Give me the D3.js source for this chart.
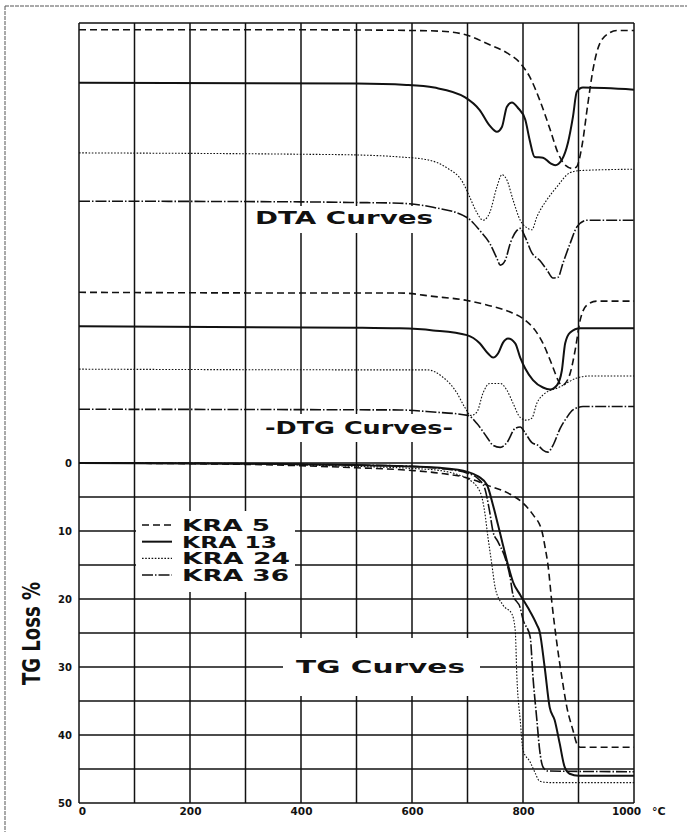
<!DOCTYPE html>
<html>
<head>
<meta charset="utf-8">
<script src="https://cdn.jsdelivr.net/npm/d3@7"></script>
<style>
  html, body { margin: 0; padding: 0; background: #fff; }
  svg text { font-family: "DejaVu Sans", Verdana, sans-serif; font-weight: bold; fill: #111; }
</style>
</head>
<body>
<div id="chart"></div>
<script>
// Samples (legend order)
const samples = ["KRA 5", "KRA 13", "KRA 24", "KRA 36"];

// Axis ticks
const tempTicks = [0, 200, 400, 600, 800, 1000];
const tgTicks = [0, 10, 20, 30, 40, 50];

// TG curves: [temperature °C, weight loss %]
const tgKRA5 = [[0,0],[200,0.1],[300,0.2],[400,0.4],[500,0.7],[600,1.1],[650,1.5],[700,2.2],[740,3.4],[777,4.6],[800,5.9],[818,7.6],[834,10.0],[840,12.5],[845,15],[852,20.5],[861,26.5],[870,31.5],[879,35.9],[890,39.3],[897,41.3],[903,41.8],[1000,41.8]];
const tgKRA13 = [[0,0],[300,0.1],[400,0.2],[500,0.3],[600,0.5],[650,0.7],[700,1.3],[720,2.0],[735,3.2],[746,6.2],[755,9.1],[764,12.1],[773,15],[782,17.5],[795,19.4],[809,21.3],[825,23.8],[830,24.8],[839,30],[848,35.9],[857,37.8],[866,41.2],[875,44.7],[884,45.7],[900,46.0],[1000,46.0]];
const tgKRA24 = [[0,0],[300,0.1],[400,0.3],[500,0.5],[600,0.8],[650,1.1],[686,1.8],[700,2.3],[723,4.3],[731,7.2],[737,11],[744,15],[750,18.4],[764,20.9],[780,22.2],[786,24.6],[789,31.5],[795,37.8],[800,42.2],[813,44],[822,45.6],[830,46.8],[850,47.0],[1000,47.0]];
const tgKRA36 = [[0,0],[300,0.1],[400,0.2],[500,0.3],[600,0.5],[650,0.8],[700,1.5],[720,2.4],[731,3.7],[740,7.2],[746,10.1],[755,11.6],[768,14],[777,16.9],[782,19.4],[795,21.3],[800,23.0],[813,25.6],[818,31.5],[825,37.8],[830,42.2],[836,44.7],[845,45.3],[1000,45.4]];

// DTA curves: [temperature °C, deflection from baseline, chart divisions]
const dtaKRA5 = [[0,0],[400,0],[600,-0.1],[650,-0.2],[695,-0.7],[740,-2.2],[771,-3.4],[795,-4.9],[812,-6.9],[830,-10.3],[849,-14.7],[863,-18.1],[876,-19.9],[890,-20.4],[897,-20.1],[906,-17.2],[917,-10.8],[926,-5.9],[939,-1.9],[957,-0.4],[969,-0.1],[1000,-0.1]];
const dtaKRA13 = [[0,0],[500,-0.1],[590,-0.3],[640,-0.7],[695,-2.1],[722,-4.0],[740,-6.3],[753,-7.2],[762,-6.5],[771,-3.5],[780,-2.9],[791,-3.7],[804,-5.4],[812,-8.4],[821,-10.9],[836,-11.0],[849,-11.8],[858,-12.1],[870,-11.3],[881,-8.8],[890,-5.0],[897,-1.3],[908,-0.7],[1000,-1.0]];
const dtaKRA24 = [[0,0],[400,-0.2],[500,-0.3],[578,-0.6],[627,-1.0],[663,-2.2],[692,-4.4],[704,-6.5],[717,-8.8],[728,-9.9],[740,-8.8],[753,-5.0],[762,-3.2],[771,-4.0],[782,-6.9],[795,-9.9],[807,-11.0],[816,-11.3],[825,-9.4],[843,-6.9],[861,-5.0],[885,-2.9],[903,-2.6],[1000,-2.4]];
const dtaKRA36 = [[0,0],[400,-0.1],[500,-0.2],[578,-0.3],[638,-0.9],[699,-2.4],[722,-4.3],[740,-6.2],[753,-8.4],[759,-9.4],[768,-8.7],[777,-6.2],[789,-4.3],[795,-4.0],[804,-5.3],[816,-7.6],[830,-8.7],[843,-10.1],[854,-11.3],[863,-11.2],[872,-9.1],[885,-6.2],[897,-3.8],[915,-2.8],[1000,-2.8]];

// DTG curves: [temperature °C, deflection from baseline, chart divisions]
const dtgKRA5 = [[0,0],[400,-0.1],[578,-0.1],[638,-0.6],[699,-1.2],[746,-2.1],[777,-2.9],[804,-4.1],[822,-5.6],[836,-7.5],[849,-10.0],[858,-11.9],[863,-12.9],[870,-13.7],[876,-13.4],[885,-11.9],[894,-8.5],[903,-4.1],[915,-1.9],[933,-1.3],[1000,-1.3]];
const dtgKRA13 = [[0,0],[500,-0.2],[578,-0.3],[638,-0.6],[699,-1.3],[722,-2.5],[737,-4.0],[746,-4.6],[755,-4.0],[764,-2.4],[773,-1.8],[786,-2.5],[795,-4.6],[804,-6.2],[818,-7.9],[836,-9.0],[849,-9.3],[861,-8.7],[870,-6.5],[876,-2.5],[885,-0.9],[903,-0.3],[1000,-0.3]];
const dtgKRA24 = [[0,0],[500,-0.1],[627,-0.1],[656,-1.2],[681,-3.5],[695,-5.6],[706,-6.8],[717,-6.3],[728,-3.5],[740,-2.1],[759,-2.1],[771,-3.1],[782,-5.0],[795,-7.1],[807,-7.5],[816,-7.2],[825,-5.0],[836,-3.8],[867,-2.6],[897,-1.3],[921,-1.0],[1000,-1.0]];
const dtgKRA36 = [[0,0],[578,-0.1],[638,-0.4],[701,-0.9],[717,-2.1],[735,-4.1],[746,-5.3],[759,-5.6],[771,-4.9],[786,-2.8],[795,-2.6],[804,-3.5],[816,-4.9],[827,-5.3],[836,-6.0],[845,-6.3],[854,-5.3],[867,-2.8],[879,-1.2],[890,-0.1],[908,0.4],[1000,0.4]];

// Baseline offsets of the stacked traces (divisions above TG zero)
const dtaBaseline = [63.7, 55.9, 45.6, 38.5];
const dtgBaseline = [25.1, 20.1, 13.8, 7.9];
const chartTop = 64.7;

document.addEventListener("DOMContentLoaded", () => {
    const width = 687, height = 832;

    const svg = d3.select("#chart")
        .append("svg")
        .attr("width", width)
        .attr("height", height)
        .attr("viewBox", `0 0 ${width} ${height}`);

    // Scales
    const x = d3.scaleLinear().domain([0, 1000]).range([79, 634]);
    const yTG = d3.scaleLinear().domain([0, 50]).range([463, 803]);
    const ySig = d3.scaleLinear().domain([0, chartTop]).range([463, 23]);

    // line styles per sample
    const styles = [
        { width: 1.6, dash: "7,4" },          // KRA 5 dashed
        { width: 2.0, dash: null },           // KRA 13 solid
        { width: 1.1, dash: "1.6,1.6" },      // KRA 24 dotted
        { width: 1.6, dash: "11,2,1.5,2" }    // KRA 36 dash-dot
    ];

    // Page frame (scan edge)
    svg.append("line").attr("x1", 5).attr("y1", 6).attr("x2", width).attr("y2", 6)
        .attr("stroke", "#555").attr("stroke-width", 1).attr("stroke-dasharray", "4,1");
    svg.append("line").attr("x1", 5).attr("y1", 6).attr("x2", 5).attr("y2", height)
        .attr("stroke", "#555").attr("stroke-width", 1).attr("stroke-dasharray", "4,1");

    // Grid
    const grid = svg.append("g").attr("stroke", "#111").attr("fill", "none");
    grid.selectAll("line.v")
        .data(d3.range(0, 1001, 100))
        .enter().append("line")
        .attr("x1", d => x(d)).attr("x2", d => x(d))
        .attr("y1", ySig(chartTop)).attr("y2", yTG(50))
        .attr("stroke-width", 1.5);
    grid.selectAll("line.h")
        .data(d3.range(0, 51, 5))
        .enter().append("line")
        .attr("x1", x(0)).attr("x2", x(1000))
        .attr("y1", d => yTG(d)).attr("y2", d => yTG(d))
        .attr("stroke-width", 1.4);
    grid.append("line")
        .attr("x1", x(0)).attr("x2", x(1000))
        .attr("y1", ySig(chartTop)).attr("y2", ySig(chartTop))
        .attr("stroke-width", 1.4);

    // White boxes behind labels (they cut the grid)
    const boxes = [
        [250, 206, 192, 27],   // DTA Curves
        [262, 414, 194, 28],   // DTG Curves
        [283, 638, 197, 58],   // TG Curves
        [136, 511, 159, 81]    // legend
    ];
    svg.selectAll("rect.box")
        .data(boxes)
        .enter().append("rect")
        .attr("x", d => d[0]).attr("y", d => d[1])
        .attr("width", d => d[2]).attr("height", d => d[3])
        .attr("fill", "#fff");

    // Curves
    const curves = svg.append("g").attr("fill", "none").attr("stroke", "#111")
        .attr("stroke-linejoin", "round");

    const dtaData = [dtaKRA5, dtaKRA13, dtaKRA24, dtaKRA36];
    const dtgData = [dtgKRA5, dtgKRA13, dtgKRA24, dtgKRA36];
    const tgData = [tgKRA5, tgKRA13, tgKRA24, tgKRA36];

    const traceLine = base => d3.line()
        .x(d => x(d[0]))
        .y(d => ySig(base + d[1]))
        .curve(d3.curveMonotoneX);

    const tgLine = d3.line()
        .x(d => x(d[0]))
        .y(d => yTG(d[1]))
        .curve(d3.curveMonotoneX);

    samples.forEach((s, i) => {
        const st = styles[i];
        [
            curves.append("path").attr("d", traceLine(dtaBaseline[i])(dtaData[i])),
            curves.append("path").attr("d", traceLine(dtgBaseline[i])(dtgData[i])),
            curves.append("path").attr("d", tgLine(tgData[i]))
        ].forEach(p => {
            p.attr("stroke-width", st.width);
            if (st.dash) p.attr("stroke-dasharray", st.dash);
        });
    });

    // Section labels
    const labels = [
        { text: "DTA Curves", x: 255, y: 224, len: 178, size: 17 },
        { text: "-DTG Curves-", x: 265, y: 434, len: 188, size: 17 },
        { text: "TG Curves", x: 296, y: 673, len: 169, size: 17 }
    ];
    svg.selectAll("text.section")
        .data(labels)
        .enter().append("text")
        .attr("x", d => d.x).attr("y", d => d.y)
        .attr("font-size", d => d.size)
        .attr("textLength", d => d.len)
        .attr("lengthAdjust", "spacingAndGlyphs")
        .text(d => d.text);

    // Legend
    const legendY = d3.scalePoint().domain(samples).range([525, 575]);
    const legend = svg.append("g");
    samples.forEach((s, i) => {
        const st = styles[i];
        const ln = legend.append("line")
            .attr("x1", 142).attr("x2", 172)
            .attr("y1", legendY(s)).attr("y2", legendY(s))
            .attr("stroke", "#111").attr("stroke-width", st.width);
        if (st.dash) ln.attr("stroke-dasharray", st.dash);
    });
    const legendLen = [88, 95, 108, 107];
    legend.selectAll("text")
        .data(samples)
        .enter().append("text")
        .attr("x", 182)
        .attr("y", d => legendY(d) + 6)
        .attr("font-size", 15)
        .attr("textLength", (d, i) => legendLen[i])
        .attr("lengthAdjust", "spacingAndGlyphs")
        .text(d => d);

    // Y axis labels (TG loss)
    const yAxis = d3.axisLeft(yTG).tickValues(tgTicks).tickSize(0).tickPadding(7);
    const yg = svg.append("g").attr("transform", `translate(${x(0)},0)`).call(yAxis);
    yg.select(".domain").remove();
    yg.selectAll("text")
        .attr("font-size", 10)
        .attr("font-family", "DejaVu Sans")
        .attr("font-weight", "bold")
        .attr("fill", "#111")
        .attr("dy", "0.35em");

    // X axis labels (temperature)
    const xAxis = d3.axisBottom(x).tickValues(tempTicks).tickFormat(d3.format("d"))
        .tickSize(0).tickPadding(5);
    const xg = svg.append("g").attr("transform", `translate(0,${yTG(50)})`).call(xAxis);
    xg.select(".domain").remove();
    xg.selectAll("text")
        .attr("font-size", 10.5)
        .attr("font-family", "DejaVu Sans")
        .attr("font-weight", "bold")
        .attr("fill", "#111")
        .attr("dx", d => d === 0 ? 3 : (d === 1000 ? -8 : 0));

    svg.append("text")
        .attr("x", 652).attr("y", 815)
        .attr("font-size", 11)
        .text("°C");

    // Y title
    svg.append("text")
        .attr("transform", "translate(40,685) rotate(-90)")
        .attr("font-size", 25)
        .attr("textLength", 103)
        .attr("lengthAdjust", "spacingAndGlyphs")
        .text("TG Loss %");
});
</script>
</body>
</html>
